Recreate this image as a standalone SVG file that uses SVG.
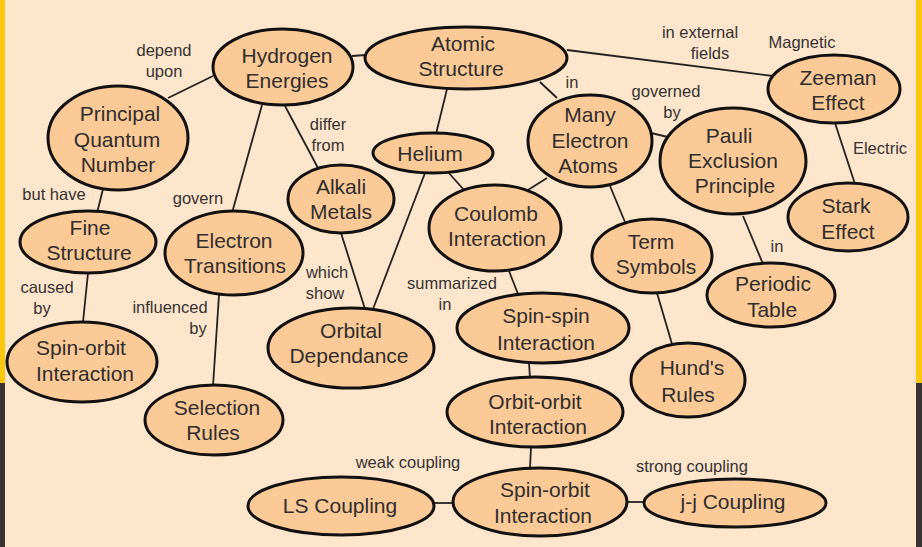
<svg xmlns="http://www.w3.org/2000/svg" width="922" height="547" viewBox="0 0 922 547">
<style>
.n ellipse{fill:#FCCA97;stroke:#111;stroke-width:3}
.n text{font-family:"Liberation Sans",Arial,sans-serif;font-size:21px;fill:#2e2e2e;text-anchor:middle}
.lbl{font-family:"Liberation Sans",Arial,sans-serif;font-size:16.5px;fill:#333;text-anchor:middle}
#edges line{stroke:#222;stroke-width:1.8}
</style>
<rect x="0" y="0" width="922" height="547" fill="#FEE6CC"/>
<rect x="0" y="0" width="5" height="383" fill="#FCC80E"/>
<rect x="0" y="383" width="5" height="164" fill="#3A3330"/>
<rect x="916" y="0" width="6" height="383" fill="#FCC80E"/>
<rect x="916" y="383" width="6" height="164" fill="#3A3330"/>
<g id="edges">
<line x1="352" y1="56" x2="366" y2="55"/>
<line x1="213" y1="76" x2="168" y2="98"/>
<line x1="262" y1="105" x2="232" y2="213"/>
<line x1="285" y1="106" x2="318" y2="168"/>
<line x1="447" y1="89" x2="436" y2="134"/>
<line x1="540" y1="82" x2="557" y2="98"/>
<line x1="567" y1="50" x2="773" y2="76"/>
<line x1="651" y1="133" x2="668" y2="137"/>
<line x1="835" y1="123" x2="855" y2="184"/>
<line x1="425" y1="173" x2="373" y2="309"/>
<line x1="448" y1="172" x2="464" y2="190"/>
<line x1="341" y1="233" x2="365" y2="309"/>
<line x1="547" y1="178" x2="528" y2="190"/>
<line x1="610" y1="186" x2="625" y2="222"/>
<line x1="743" y1="216" x2="763" y2="264"/>
<line x1="657" y1="293" x2="672" y2="344"/>
<line x1="103" y1="189" x2="97" y2="213"/>
<line x1="88" y1="273" x2="83" y2="322"/>
<line x1="219" y1="295" x2="213" y2="386"/>
<line x1="509" y1="271" x2="518" y2="294"/>
<line x1="529" y1="363" x2="530" y2="378"/>
<line x1="531" y1="447" x2="530" y2="468"/>
<line x1="433" y1="503" x2="454" y2="503"/>
<line x1="626" y1="502" x2="645" y2="502"/>
</g>
<g id="labels">
<text class="lbl" x="164" y="56">depend</text>
<text class="lbl" x="164" y="77">upon</text>
<text class="lbl" x="328" y="130">differ</text>
<text class="lbl" x="328" y="151">from</text>
<text class="lbl" x="572" y="88">in</text>
<text class="lbl" x="700" y="38">in external</text>
<text class="lbl" x="710" y="59">fields</text>
<text class="lbl" x="802" y="48">Magnetic</text>
<text class="lbl" x="666" y="97">governed</text>
<text class="lbl" x="672" y="118">by</text>
<text class="lbl" x="880" y="154">Electric</text>
<text class="lbl" x="54" y="200">but have</text>
<text class="lbl" x="198" y="204">govern</text>
<text class="lbl" x="47" y="293">caused</text>
<text class="lbl" x="42" y="314">by</text>
<text class="lbl" x="170" y="313">influenced</text>
<text class="lbl" x="198" y="334">by</text>
<text class="lbl" x="327" y="278">which</text>
<text class="lbl" x="325" y="299">show</text>
<text class="lbl" x="452" y="289">summarized</text>
<text class="lbl" x="445" y="310">in</text>
<text class="lbl" x="777" y="252">in</text>
<text class="lbl" x="408" y="468">weak coupling</text>
<text class="lbl" x="692" y="472">strong coupling</text>
</g>
<g id="hydrogen" class="n"><ellipse cx="283" cy="67" rx="70" ry="38"/><text x="287" y="63">Hydrogen</text><text x="287" y="88">Energies</text></g>
<g id="atomic" class="n"><ellipse cx="466" cy="58" rx="101" ry="31"/><text x="463" y="51">Atomic</text><text x="461" y="76">Structure</text></g>
<g id="principal" class="n"><ellipse cx="118" cy="138" rx="70" ry="52"/><text x="120" y="121">Principal</text><text x="117" y="147">Quantum</text><text x="118" y="172">Number</text></g>
<g id="many" class="n"><ellipse cx="590" cy="141" rx="62" ry="46"/><text x="590" y="122">Many</text><text x="590" y="148">Electron</text><text x="588" y="173">Atoms</text></g>
<g id="zeeman" class="n"><ellipse cx="834" cy="89" rx="66" ry="34"/><text x="838" y="85">Zeeman</text><text x="838" y="110">Effect</text></g>
<g id="pauli" class="n"><ellipse cx="733" cy="161" rx="73" ry="53"/><text x="729" y="143">Pauli</text><text x="733" y="168">Exclusion</text><text x="735" y="193">Principle</text></g>
<g id="stark" class="n"><ellipse cx="848" cy="217" rx="60" ry="34"/><text x="846" y="213">Stark</text><text x="848" y="239">Effect</text></g>
<g id="helium" class="n"><ellipse cx="433" cy="153" rx="60" ry="20"/><text x="430" y="161">Helium</text></g>
<g id="alkali" class="n"><ellipse cx="341" cy="199" rx="53" ry="34"/><text x="341" y="194">Alkali</text><text x="341" y="219">Metals</text></g>
<g id="coulomb" class="n"><ellipse cx="495" cy="228" rx="66" ry="43"/><text x="496" y="221">Coulomb</text><text x="497" y="246">Interaction</text></g>
<g id="fine" class="n"><ellipse cx="88" cy="242" rx="68" ry="31"/><text x="90" y="235">Fine</text><text x="89" y="260">Structure</text></g>
<g id="transitions" class="n"><ellipse cx="234" cy="253" rx="69" ry="42"/><text x="234" y="248">Electron</text><text x="235" y="273">Transitions</text></g>
<g id="term" class="n"><ellipse cx="652" cy="256" rx="60" ry="37"/><text x="651" y="249">Term</text><text x="656" y="274">Symbols</text></g>
<g id="periodic" class="n"><ellipse cx="771" cy="295" rx="64" ry="32"/><text x="773" y="291">Periodic</text><text x="772" y="317">Table</text></g>
<g id="spinorbit1" class="n"><ellipse cx="82" cy="362" rx="75" ry="40"/><text x="81" y="355">Spin-orbit</text><text x="85" y="381">Interaction</text></g>
<g id="orbital" class="n"><ellipse cx="351" cy="348" rx="83" ry="40"/><text x="351" y="338">Orbital</text><text x="349" y="363">Dependance</text></g>
<g id="spinspin" class="n"><ellipse cx="543" cy="328" rx="86" ry="35"/><text x="546" y="323">Spin-spin</text><text x="546" y="350">Interaction</text></g>
<g id="selection" class="n"><ellipse cx="214" cy="420" rx="69" ry="35"/><text x="217" y="415">Selection</text><text x="213" y="440">Rules</text></g>
<g id="hunds" class="n"><ellipse cx="688" cy="380" rx="57" ry="37"/><text x="692" y="375">Hund's</text><text x="688" y="402">Rules</text></g>
<g id="orbitorbit" class="n"><ellipse cx="535" cy="412" rx="88" ry="35"/><text x="535" y="409">Orbit-orbit</text><text x="538" y="434">Interaction</text></g>
<g id="spinorbit2" class="n"><ellipse cx="540" cy="502" rx="87" ry="34"/><text x="545" y="497">Spin-orbit</text><text x="543" y="523">Interaction</text></g>
<g id="ls" class="n"><ellipse cx="341" cy="506" rx="93" ry="29"/><text x="340" y="513">LS Coupling</text></g>
<g id="jj" class="n"><ellipse cx="735" cy="503" rx="91" ry="24"/><text x="733" y="509">j-j Coupling</text></g>
</svg>
